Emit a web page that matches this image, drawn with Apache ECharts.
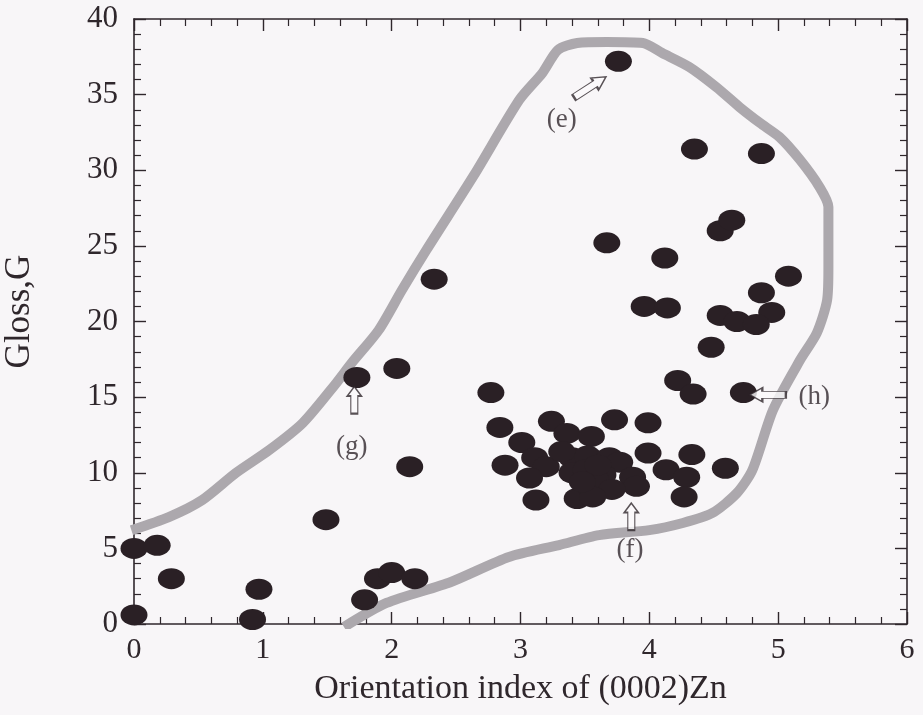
<!DOCTYPE html>
<html>
<head>
<meta charset="utf-8">
<title>Gloss vs orientation index</title>
<script src="https://cdn.jsdelivr.net/npm/echarts@6/dist/echarts.min.js"></script>
<style>
  html, body { margin: 0; padding: 0; background: #f8f6f8; }
  #chart { width: 923px; height: 715px; }
</style>
</head>
<body>
<div id="chart"></div>
<script>
// Measured samples: orientation index of (0002)Zn vs gloss G
const samplePoints = [
  // low-orientation samples
  [0.00, 0.6], [0.00, 5.0], [0.18, 5.2], [0.29, 3.0], [0.92, 0.3], [0.97, 2.3],
  [1.49, 6.9], [1.73, 16.3], [2.04, 16.9], [2.14, 10.4], [2.33, 22.8],
  [1.79, 1.6], [1.89, 3.0], [2.00, 3.4], [2.18, 3.0],
  // high-gloss samples
  [3.76, 37.2], [4.35, 31.4], [4.87, 31.1], [4.55, 26.0], [4.64, 26.7], [3.67, 25.2],
  [4.12, 24.2], [3.96, 21.0], [4.14, 20.9], [5.08, 23.0], [4.87, 21.9], [4.95, 20.6],
  [4.55, 20.4], [4.68, 20.0], [4.83, 19.8], [4.48, 18.3], [4.22, 16.1], [4.34, 15.2],
  [4.73, 15.3],
  // main cluster
  [2.77, 15.3], [2.84, 13.0], [3.24, 13.4], [3.73, 13.5], [3.99, 13.3], [3.36, 12.6],
  [3.55, 12.4], [3.01, 12.0], [2.88, 10.5], [3.11, 11.0], [3.20, 10.4], [3.40, 11.0],
  [3.52, 11.1], [3.69, 11.0], [3.77, 10.7], [3.99, 11.3], [4.33, 11.2], [4.59, 10.3],
  [3.40, 10.0], [3.51, 10.2], [3.64, 9.85], [3.87, 9.7], [4.13, 10.2], [4.29, 9.7],
  [3.07, 9.65], [3.58, 9.6], [3.90, 9.1], [3.71, 8.9], [3.12, 8.2], [3.44, 8.3],
  [3.56, 8.4], [4.27, 8.4], [3.32, 11.4], [3.60, 10.5], [3.48, 9.4]
];

// Envelope drawn around the data set (open curve from the bottom axis to the left axis)
const envelope = [
  [1.63, -0.2], [1.96, 1.39], [2.46, 2.78], [2.91, 4.43], [3.30, 5.22], [3.61, 5.88],
  [4.00, 6.21], [4.26, 6.68], [4.49, 7.34], [4.68, 8.66], [4.80, 10.18], [4.96, 14.15],
  [5.17, 17.45], [5.30, 19.24], [5.38, 21.42], [5.39, 23.6], [5.39, 27.57], [5.32, 28.9],
  [5.17, 30.68], [5.01, 32.2], [4.86, 33.12], [4.70, 34.18], [4.52, 35.5], [4.31, 36.83],
  [4.10, 37.75], [3.95, 38.41], [3.67, 38.48], [3.44, 38.41], [3.29, 37.95], [3.17, 36.43],
  [2.99, 34.64], [2.64, 29.69], [2.27, 24.73], [2.08, 22.08], [1.90, 19.44], [1.69, 17.26],
  [1.57, 15.93], [1.31, 13.29], [1.05, 11.5], [0.79, 9.98], [0.53, 8.2], [0.27, 7.07],
  [-0.02, 6.2]
];

// Annotation arrows: anchor [x, y] and pointing direction (degrees, counter-clockwise from up)
const arrowNames = ['e', 'f', 'g', 'h'];
const arrowAnchors = [[3.54, 35.5], [3.86, 7.1], [1.71, 14.8], [4.92, 15.15]];
const arrowDirections = [-57, 0, 0, 90];
const arrowLengths = [38, 27, 27, 36];
const noteTexts = ['(e)', '(f)', '(g)', '(h)'];
const noteAnchors = [[3.32, 33.3], [3.85, 4.9], [1.69, 11.7], [5.28, 15.0]];

const xTicks = [0, 1, 2, 3, 4, 5, 6];
const yTicks = [0, 5, 10, 15, 20, 25, 30, 35, 40];
const xTitle = 'Orientation index of (0002)Zn';
const yTitle = 'Gloss,G';

const ink = '#2f272c';
const serif = '"Liberation Serif", "Times New Roman", serif';
const arrowPath = 'path://M7,0 L14,9 L10.5,9 L10.5,26 L3.5,26 L3.5,9 L0,9 Z';

const chart = echarts.init(document.getElementById('chart'), null, { renderer: 'canvas' });

const frameAxis = (extra) => Object.assign({
  type: 'value',
  axisLine: { show: true, onZero: false, lineStyle: { color: ink, width: 1.6 } },
  axisTick: { show: true, inside: true, length: 12, lineStyle: { color: ink, width: 1.4 } },
  minorTick: { show: true, splitNumber: 5, length: 7, lineStyle: { color: ink, width: 1.2 } },
  splitLine: { show: false },
  minorSplitLine: { show: false }
}, extra);

chart.setOption({
  backgroundColor: '#f8f6f8',
  animation: false,
  grid: { left: 134, right: 16, top: 19, bottom: 91, containLabel: false, outerBoundsMode: 'none' },
  xAxis: [
    frameAxis({
      position: 'bottom', min: xTicks[0], max: xTicks[xTicks.length - 1], interval: 1,
      axisLabel: { show: true, margin: 11, color: ink, fontFamily: serif, fontSize: 30 },
      name: xTitle, nameLocation: 'middle', nameGap: 48,
      nameTextStyle: { color: ink, fontFamily: serif, fontSize: 34 }
    }),
    frameAxis({
      position: 'top', min: xTicks[0], max: xTicks[xTicks.length - 1], interval: 1,
      axisLabel: { show: false }
    })
  ],
  yAxis: [
    frameAxis({
      position: 'left', min: yTicks[0], max: yTicks[yTicks.length - 1], interval: 5,
      axisLabel: { show: true, margin: 16, color: ink, fontFamily: serif, fontSize: 31 },
      name: yTitle, nameLocation: 'middle', nameGap: 97, nameRotate: 90,
      nameTextStyle: { color: ink, fontFamily: serif, fontSize: 35, padding: [0, 0, 0, 20] }
    }),
    frameAxis({
      position: 'right', min: yTicks[0], max: yTicks[yTicks.length - 1], interval: 5,
      axisLabel: { show: false }
    })
  ],
  series: [
    {
      type: 'line',
      data: envelope,
      showSymbol: false,
      smooth: 0.25,
      lineStyle: { color: '#aca8ad', width: 10 },
      z: 1,
      silent: true
    },
    {
      type: 'scatter',
      data: samplePoints,
      symbol: 'circle',
      symbolSize: [27, 21],
      itemStyle: { color: '#2a2025', opacity: 1 },
      z: 3
    },
    {
      type: 'scatter',
      data: arrowAnchors.map((p, i) => ({
        value: p,
        name: arrowNames[i],
        symbolRotate: arrowDirections[i],
        symbolSize: [14, arrowLengths[i]]
      })),
      symbol: arrowPath,
      itemStyle: { color: '#fbfafb', borderColor: ink, borderWidth: 1.5 },
      z: 4
    },
    {
      type: 'scatter',
      data: noteAnchors.map((p, i) => ({ value: p, name: noteTexts[i] })),
      symbolSize: 0,
      label: {
        show: true, position: 'inside', formatter: '{b}',
        color: ink, fontFamily: serif, fontSize: 27
      },
      z: 4
    }
  ]
});
</script>
</body>
</html>
